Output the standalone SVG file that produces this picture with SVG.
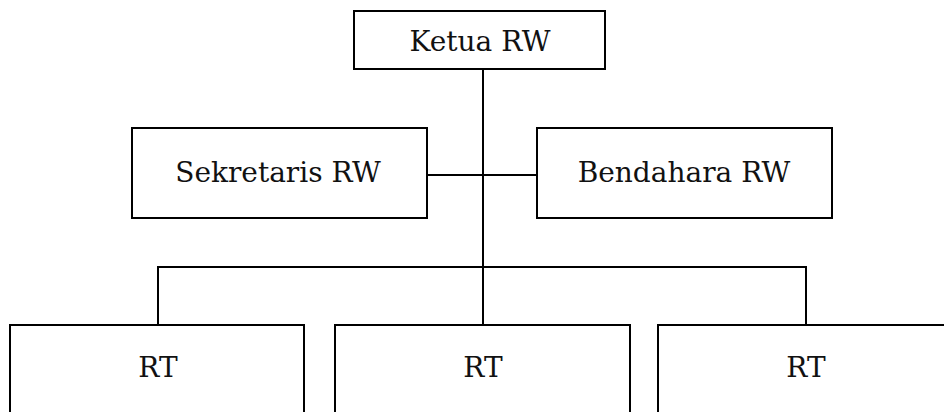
<svg xmlns="http://www.w3.org/2000/svg" width="944" height="412" viewBox="0 0 944 412">
<style>
.box{fill:#fff;stroke:#000;stroke-width:2}
.lbl{font-family:"DejaVu Serif","Liberation Serif",serif;font-size:28px;fill:#111;text-anchor:middle}
.ln{stroke:#000;stroke-width:2;fill:none}
</style>
<rect width="944" height="412" fill="#fff"/>
<g id="connectors">
<line class="ln" x1="483" y1="69" x2="483" y2="325"/>
<line class="ln" x1="427" y1="175" x2="537" y2="175"/>
<line class="ln" x1="157" y1="267" x2="807" y2="267"/>
<line class="ln" x1="158" y1="266" x2="158" y2="325"/>
<line class="ln" x1="806" y1="266" x2="806" y2="325"/>
</g>
<g id="ketua"><rect class="box" x="354" y="11" width="251" height="58"/><text class="lbl" x="480" y="51">Ketua RW</text></g>
<g id="sekretaris"><rect class="box" x="132" y="128" width="295" height="90"/><text class="lbl" x="278" y="182">Sekretaris RW</text></g>
<g id="bendahara"><rect class="box" x="537" y="128" width="295" height="90"/><text class="lbl" x="684" y="182">Bendahara RW</text></g>
<g id="rt1"><rect class="box" x="10" y="325" width="294" height="100"/><text class="lbl" x="158" y="377">RT</text></g>
<g id="rt2"><rect class="box" x="335" y="325" width="295" height="100"/><text class="lbl" x="483" y="377">RT</text></g>
<g id="rt3"><rect class="box" x="658" y="325" width="296" height="100"/><text class="lbl" x="806" y="377">RT</text></g>
</svg>
